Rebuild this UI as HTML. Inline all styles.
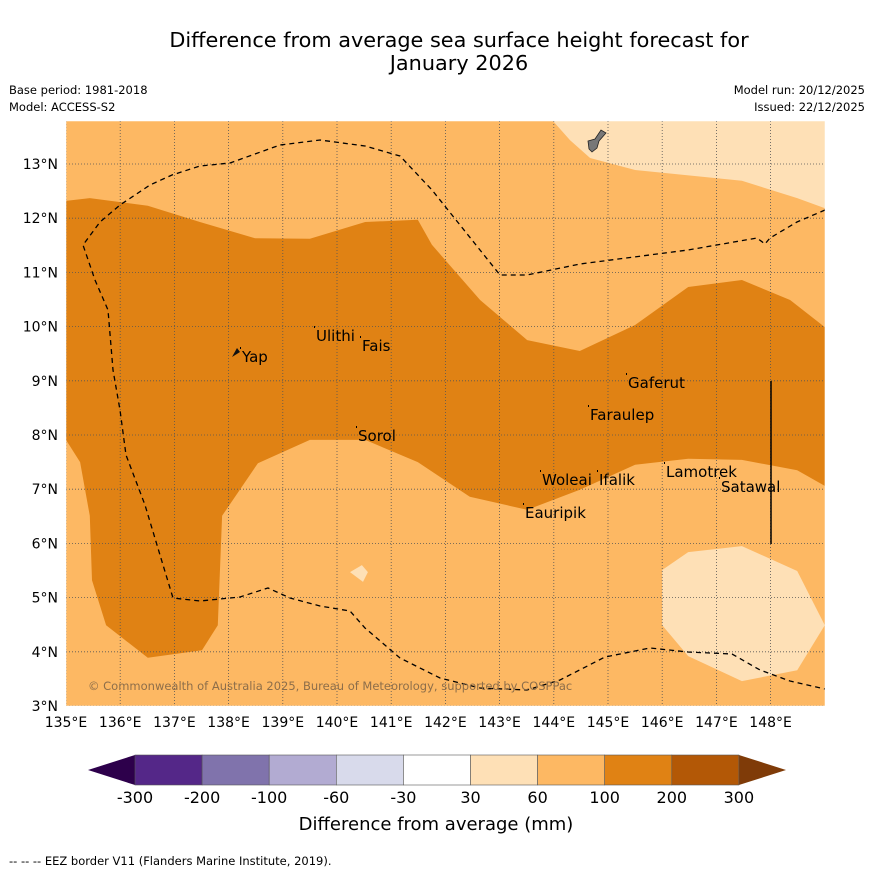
<!DOCTYPE html>
<html><head><meta charset="utf-8"><style>
body{margin:0;background:#fff;font-family:"Liberation Sans","DejaVu Sans",sans-serif}
svg text{font-family:"DejaVu Sans","Liberation Sans",sans-serif}
</style></head><body>
<svg id="chart" width="873" height="873" viewBox="0 0 873 873" xmlns="http://www.w3.org/2000/svg">
<rect width="873" height="873" fill="#fff"/>
<text x="459" y="47" font-size="20.8" text-anchor="middle">Difference from average sea surface height forecast for</text>
<text x="459" y="70" font-size="20.8" text-anchor="middle">January 2026</text>
<text x="9" y="94" font-size="11.5">Base period: 1981-2018</text>
<text x="9" y="111" font-size="11.5">Model: ACCESS-S2</text>
<text x="865" y="94" font-size="11.5" text-anchor="end">Model run: 20/12/2025</text>
<text x="865" y="111" font-size="11.5" text-anchor="end">Issued: 22/12/2025</text>
<defs><clipPath id="mapclip"><rect x="66" y="121" width="759" height="585"/></clipPath></defs>
<g id="map" clip-path="url(#mapclip)"></g>
<g id="axes"></g>
<g id="cbar"></g>
<text x="436" y="830" font-size="18" text-anchor="middle">Difference from average (mm)</text>
<text x="9" y="865" font-size="11.5">--  --  -- EEZ border V11 (Flanders Marine Institute, 2019).</text>
</svg>
<script>
const NS="http://www.w3.org/2000/svg";
const lonMin=135, lonMax=149, latMin=3, latMax=13.8;
const lonTicks=[135,136,137,138,139,140,141,142,143,144,145,146,147,148];
const latTicks=[3,4,5,6,7,8,9,10,11,12,13];
const cbLevels=["-300","-200","-100","-60","-30","30","60","100","200","300"];
const cbColors=["#542788","#8073ac","#b2abd2","#d8daeb","#ffffff","#fee0b6","#fdb863","#e08214","#b35806"];
const darkRegion=[[135,12.32],[135.44,12.37],[136.51,12.23],[137.47,11.93],[138.49,11.63],[139.5,11.62],[140.52,11.93],[141.49,11.97],[141.75,11.51],[142.64,10.49],[143.51,9.75],[144.48,9.55],[145.5,10.03],[146.48,10.73],[147.47,10.86],[148.36,10.49],[149,9.99],[149,7.06],[148.49,7.35],[147.47,7.54],[146.48,7.56],[145.5,7.45],[144.48,6.99],[143.51,6.62],[142.45,6.86],[141.49,7.5],[140.52,7.91],[139.5,7.91],[138.54,7.48],[137.88,6.51],[137.8,4.49],[137.51,4.03],[136.51,3.89],[135.74,4.49],[135.48,5.32],[135.44,6.51],[135.26,7.5],[135,7.91]];
const lightRegionN=[[143.89,13.9],[144.3,13.44],[144.67,13.11],[145.5,12.89],[147.47,12.69],[148.49,12.37],[149.1,12.15],[149.1,13.9]];
const lightRegionS=[[146,5.51],[146.48,5.84],[147.47,5.95],[148.49,5.49],[149,4.49],[148.49,3.66],[147.47,3.46],[146.48,3.92],[146,4.49]];
const lightPatch=[[140.24,5.47],[140.46,5.6],[140.57,5.47],[140.48,5.29]];
const islands=[["Yap",138.1,9.5,242,357],["Ulithi",139.7,9.9,316,336],["Fais",140.5,9.75,362,346],["Sorol",140.35,8.15,358,436],["Gaferut",145.35,9.2,628,383],["Faraulep",144.55,8.6,590,415],["Woleai",143.9,7.35,542,480],["Ifalik",144.45,7.25,599,480],["Lamotrek",146.3,7.45,666,472],["Satawal",147.05,7.35,721,487],["Eauripik",143.25,6.7,525,513]];
const X=lon=>66+(lon-lonMin)*54.2;
const Y=lat=>706-(lat-latMin)*54.2;
const map=document.getElementById('map'), axes=document.getElementById('axes'), cbar=document.getElementById('cbar');
function mk(tag,attrs,parent){const e=document.createElementNS(NS,tag);for(const k in attrs)e.setAttribute(k,attrs[k]);parent.appendChild(e);return e;}
const pts=a=>a.map(p=>X(p[0]).toFixed(1)+","+Y(p[1]).toFixed(1)).join(" ");
let bg=mk('rect',{x:66,y:121,width:759,height:585,fill:'#fdb863'},map);


let p1=mk('polygon',{points:pts(darkRegion),fill:'#e08214'},map);


let p2=mk('polygon',{points:pts(lightRegionN),fill:'#fee0b6'},map);


let p3=mk('polygon',{points:pts(lightRegionS),fill:'#fee0b6'},map);


let p4=mk('polygon',{points:pts(lightPatch),fill:'#fee0b6'},map);


lonTicks.forEach(l=>{let g=mk('line',{x1:X(l),x2:X(l),y1:121,y2:706,stroke:'#555',"stroke-width":0.8,"stroke-dasharray":"1,2"},map);

});
latTicks.forEach(l=>{let g=mk('line',{x1:66,x2:825,y1:Y(l),y2:Y(l),stroke:'#555',"stroke-width":0.8,"stroke-dasharray":"1,2"},map);

});
let eez=mk('path',{d:"M825,210 L797,222 L770,238 L765,244 L757,238 L688,250 L580,264 L527,275 L500,275 L480,250 L432,190 L400,156 L365,146 L320,140 L280,145 L230,163 L200,166 L172,175 L150,185 L120,205 L100,222 L83,245 L95,280 L108,310 L113,370 L120,410 L126,455 L145,505 L160,555 L173,598 L200,601 L240,597 L268,588 L290,598 L320,606 L350,611 L365,628 L400,658 L440,678 L480,688 L527,690 L560,680 L605,657 L650,648 L688,652 L732,654 L760,670 L790,681 L825,689",fill:'none',stroke:'#000',"stroke-width":1.3,"stroke-dasharray":"5,4"},map);


let vl=mk('line',{x1:771,x2:771,y1:381,y2:544,stroke:'#000',"stroke-width":1.5},map);


let guam=mk('path',{d:"M588,141 L595,139 L601,130 L606,133 L599,141 L597,148 L592,152 L589,149 Z",fill:'#777',stroke:'#222',"stroke-width":0.8},map);


let yap=mk('path',{d:"M232,357 L237,348 L240,352 Z",fill:'#111'},map);


islands.forEach(d=>{let t=mk('text',{x:d[3],y:d[4]+5,"font-size":15},map);t.textContent=d[0];


let dot=mk('rect',{x:d[3]-2,y:d[4]-10,width:1,height:2,fill:'#000'},map);

});
let cp=mk('text',{x:88,y:690,"font-size":11.5,fill:'#8d6e4a'},map);cp.textContent="© Commonwealth of Australia 2025, Bureau of Meteorology, supported by COSPPac";


let fr=mk('rect',{x:66,y:121,width:759,height:585,fill:'none',stroke:'#fff',"stroke-width":0.5},axes);


lonTicks.forEach(l=>{let t=mk('text',{x:X(l),y:727,"font-size":14,"text-anchor":"middle"},axes);t.textContent=l+"°E";

});
latTicks.forEach(l=>{let t=mk('text',{x:58,y:Y(l)+5,"font-size":14,"text-anchor":"end"},axes);t.textContent=l+"°N";

});
const cx0=135, cw=67.1, cy=755, ch=30;
let tl=mk('polygon',{points:`88,770 ${cx0},${cy} ${cx0},${cy+ch}`,fill:'#2d004b'},cbar);


let tr=mk('polygon',{points:`786,770 ${cx0+9*cw},${cy} ${cx0+9*cw},${cy+ch}`,fill:'#7f3b08'},cbar);


cbColors.forEach((c,i)=>{let r=mk('rect',{x:cx0+i*cw,y:cy,width:cw,height:ch,fill:c,stroke:'#555',"stroke-width":0.6},cbar);

});
cbLevels.forEach((v,i)=>{let t=mk('text',{x:cx0+i*cw,y:803,"font-size":16,"text-anchor":"middle"},cbar);t.textContent=v;

});
</script>
</body></html>
